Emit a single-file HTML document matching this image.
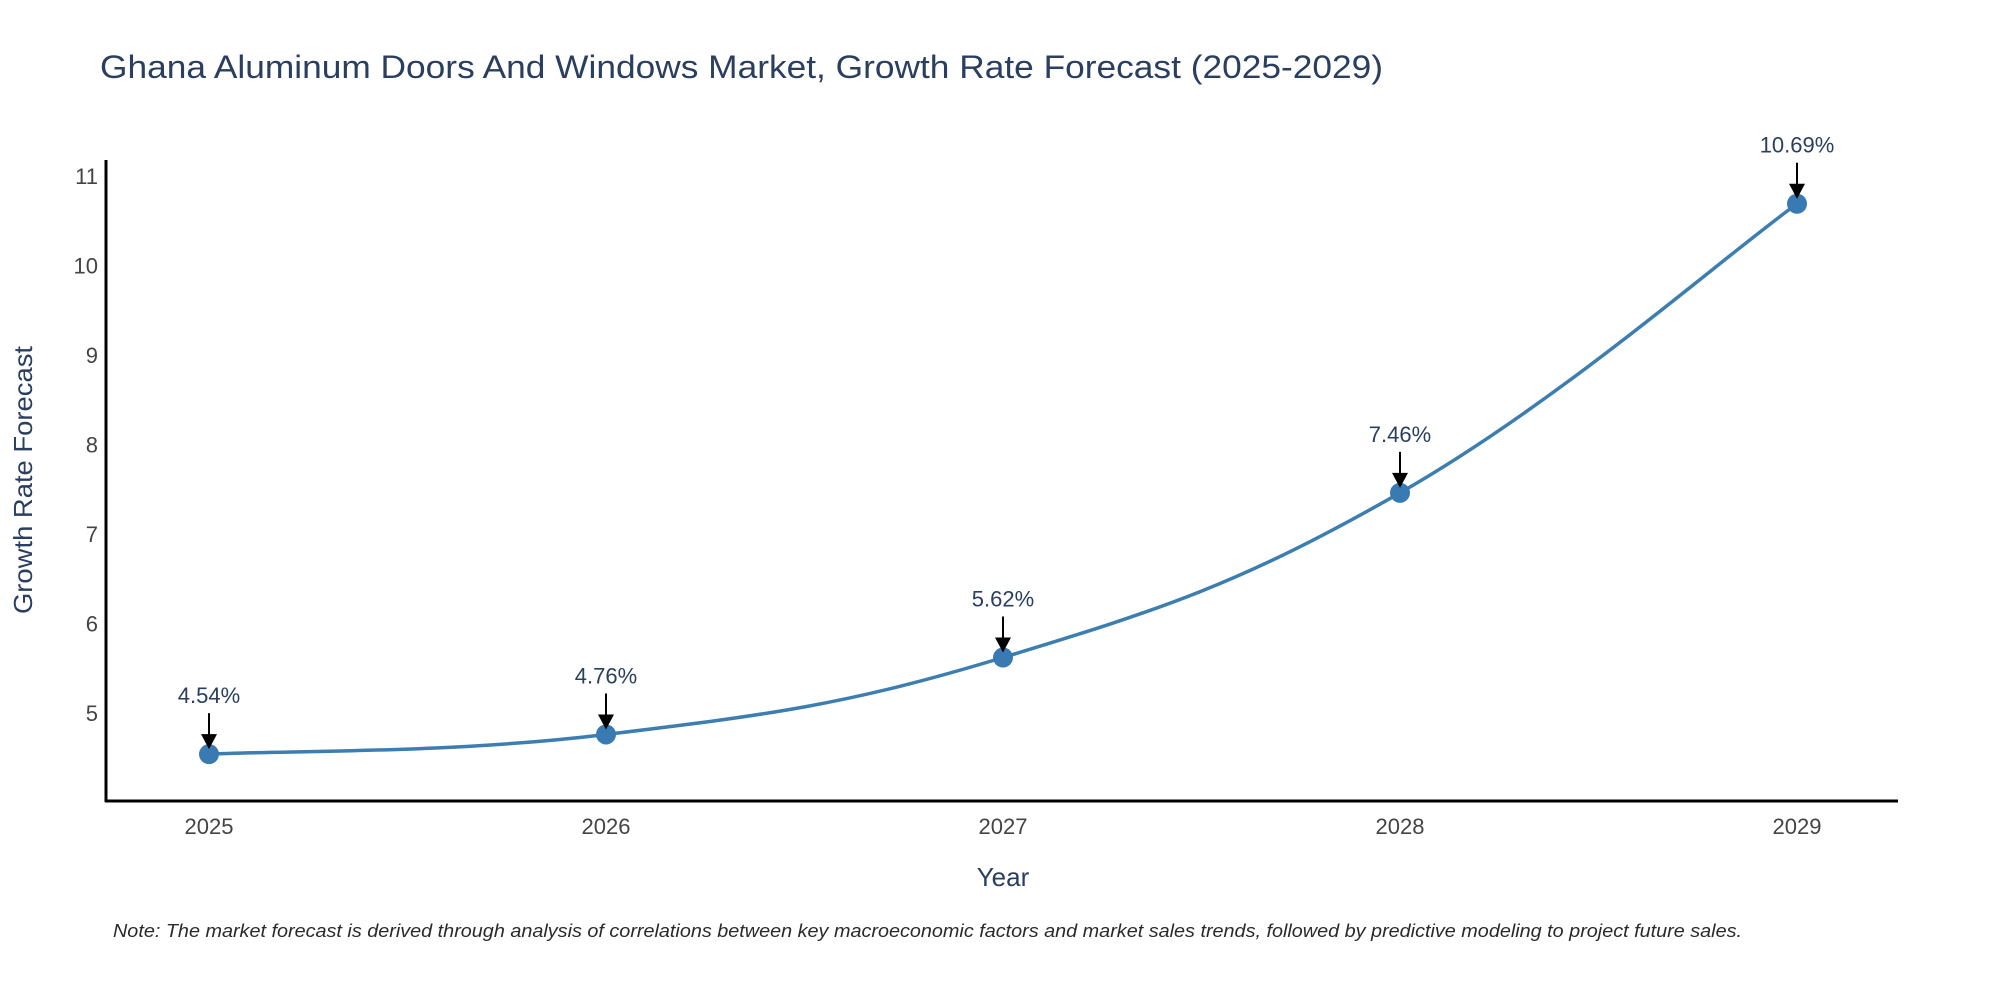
<!DOCTYPE html>
<html><head><meta charset="utf-8"><style>
body{margin:0;background:#fff}
svg text{font-family:"Liberation Sans","Open Sans",sans-serif}
</style></head><body>
<svg id="chart" width="2000" height="1000" viewBox="0 0 2000 1000" xmlns="http://www.w3.org/2000/svg">
<text x="100" y="78" font-size="32" fill="#2a3f5f" textLength="1283" lengthAdjust="spacingAndGlyphs">Ghana Aluminum Doors And Windows Market, Growth Rate Forecast (2025-2029)</text>
<g id="yticks"></g>
<g id="xticks"></g>
<line x1="106" y1="160" x2="106" y2="802" stroke="#000" stroke-width="3"/>
<line x1="105" y1="801" x2="1898" y2="801" stroke="#000" stroke-width="3"/>
<text transform="translate(32,480) rotate(-90)" text-anchor="middle" font-size="26" fill="#2a3f5f" textLength="268" lengthAdjust="spacingAndGlyphs">Growth Rate Forecast</text>
<text x="1003" y="886" text-anchor="middle" font-size="26" fill="#2a3f5f">Year</text>
<path id="line" fill="none" stroke="#3d7eb0" stroke-width="3.5"/>
<g id="marks"></g>
<text x="113" y="937" font-size="18" font-style="italic" fill="#2a2a2a" textLength="1629" lengthAdjust="spacingAndGlyphs">Note: The market forecast is derived through analysis of correlations between key macroeconomic factors and market sales trends, followed by predictive modeling to project future sales.</text>
</svg>
<script>
const years = [2025, 2026, 2027, 2028, 2029];
const values = [4.54, 4.76, 5.62, 7.46, 10.69];
const labels = ["4.54%", "4.76%", "5.62%", "7.46%", "10.69%"];
const yTicks = [5, 6, 7, 8, 9, 10, 11];
const NS = "http://www.w3.org/2000/svg";
const xS = v => 209 + (v - 2025) * (1797 - 209) / 4;
const yS = v => 713 - (v - 5) * (713 - 176) / 6;
function mk(tag, attrs, parent, txt){const e=document.createElementNS(NS,tag);for(const k in attrs)e.setAttribute(k,attrs[k]);if(txt!==undefined)e.textContent=txt;parent.appendChild(e);return e;}
const yt=document.getElementById('yticks');
yTicks.forEach(t=>{const e=mk('text',{x:98,y:yS(t)+8,'text-anchor':'end','font-size':'22',fill:'#444'},yt,String(t));

});
const xt=document.getElementById('xticks');
years.forEach(y=>{const e=mk('text',{x:xS(y),y:834,'text-anchor':'middle','font-size':'22',fill:'#444'},xt,String(y));

});
const pts=years.map((y,i)=>[xS(y),yS(values[i])]);
let d=`M${pts[0][0]},${pts[0][1]}`;const s=0.2;
for(let i=0;i<pts.length-1;i++){const p0=pts[Math.max(0,i-1)],p1=pts[i],p2=pts[i+1],p3=pts[Math.min(pts.length-1,i+2)];
const c1=[p1[0]+(p2[0]-p0[0])*s,p1[1]+(p2[1]-p0[1])*s],c2=[p2[0]-(p3[0]-p1[0])*s,p2[1]-(p3[1]-p1[1])*s];
d+=` C${c1[0]},${c1[1]} ${c2[0]},${c2[1]} ${p2[0]},${p2[1]}`;}
document.getElementById('line').setAttribute('d',d);
const g=document.getElementById('marks');
pts.forEach((p,i)=>{
const c=mk('circle',{cx:p[0],cy:p[1],r:10,fill:'#3a7ab3'},g);


const l=mk('line',{x1:p[0],y1:p[1]-41,x2:p[0],y2:p[1]-16,stroke:'#000','stroke-width':2},g);


const h=mk('polygon',{points:`${p[0]-8},${p[1]-20} ${p[0]+8},${p[1]-20} ${p[0]},${p[1]-5}`,fill:'#000'},g);


const t=mk('text',{x:p[0],y:p[1]-51,'text-anchor':'middle','font-size':'22',fill:'#2a3f5f'},g,labels[i]);


});
</script>
</body></html>
